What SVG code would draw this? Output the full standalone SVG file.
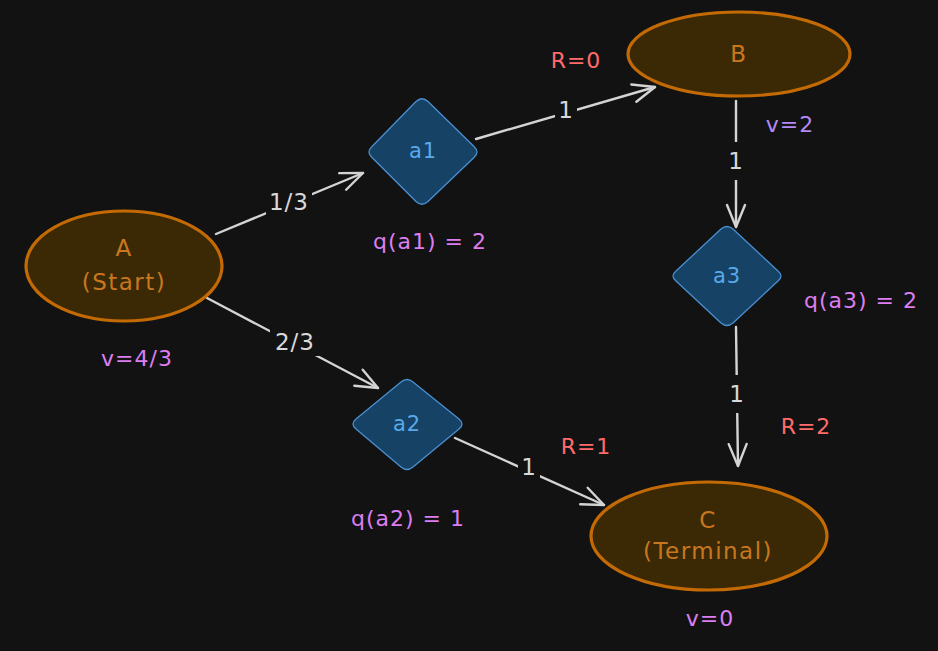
<svg xmlns="http://www.w3.org/2000/svg" width="938" height="651" viewBox="0 0 938 651">
<defs>
<style>
.state{fill:#3a2904;stroke:#c36a05;stroke-width:3.2}
.stxt{fill:#c8771f;font-family:"DejaVu Sans","Liberation Sans",sans-serif;font-size:23px;letter-spacing:1.5px;text-anchor:middle;dominant-baseline:central}
.act{fill:#164265;stroke:#4a90d2;stroke-width:1.3}
.atxt{fill:#5aa9ea;font-family:"DejaVu Sans","Liberation Sans",sans-serif;font-size:21px;letter-spacing:1px;text-anchor:middle;dominant-baseline:central}
.edge{stroke:#d4d4d4;stroke-width:2.4;fill:none;stroke-linecap:round}
.lbl{fill:#d8d8d8;font-family:"DejaVu Sans","Liberation Sans",sans-serif;font-size:23px;letter-spacing:1px;text-anchor:middle;dominant-baseline:central}
.lblbg{fill:#121212}
.rew{fill:#ff6b6b;font-family:"DejaVu Sans","Liberation Sans",sans-serif;font-size:22px;letter-spacing:1px;text-anchor:middle;dominant-baseline:central}
.val{fill:#dc7ef0;font-family:"DejaVu Sans","Liberation Sans",sans-serif;font-size:22px;letter-spacing:1px;text-anchor:middle;dominant-baseline:central}
.valb{fill:#b489f6;font-family:"DejaVu Sans","Liberation Sans",sans-serif;font-size:22px;letter-spacing:1px;text-anchor:middle;dominant-baseline:central}
</style>
<marker id="arr" viewBox="0 0 26 22" refX="24" refY="11" markerWidth="26" markerHeight="22" orient="auto" markerUnits="userSpaceOnUse">
<path d="M2,2 L24,11 L2,20" fill="none" stroke="#d4d4d4" stroke-width="2.4" stroke-linecap="round" stroke-linejoin="round"/>
</marker>
</defs>
<rect width="938" height="651" fill="#121212"/>
<g id="connectors">
<line class="edge" x1="216" y1="234" x2="363" y2="173" marker-end="url(#arr)"/>
<rect class="lblbg" x="266" y="188" width="46" height="28"/>
<text class="lbl" x="289" y="202">1/3</text>
<line class="edge" x1="207" y1="298" x2="378" y2="388" marker-end="url(#arr)"/>
<rect class="lblbg" x="270" y="328" width="50" height="28"/>
<text class="lbl" x="295" y="342">2/3</text>
<line class="edge" x1="476" y1="139" x2="655" y2="87" marker-end="url(#arr)"/>
<rect class="lblbg" x="555" y="96" width="22" height="28"/>
<text class="lbl" x="566" y="110">1</text>
<line class="edge" x1="455" y1="438" x2="604" y2="505" marker-end="url(#arr)"/>
<rect class="lblbg" x="518" y="453" width="22" height="28"/>
<text class="lbl" x="529" y="467">1</text>
<line class="edge" x1="736" y1="101" x2="736" y2="227" marker-end="url(#arr)"/>
<rect class="lblbg" x="724" y="142" width="24" height="38"/>
<text class="lbl" x="736" y="161">1</text>
<line class="edge" x1="736" y1="327" x2="738" y2="466" marker-end="url(#arr)"/>
<rect class="lblbg" x="725" y="375" width="24" height="38"/>
<text class="lbl" x="737" y="394">1</text>
</g>
<g id="A">
<ellipse class="state" cx="124" cy="266" rx="98" ry="55"/>
<text class="stxt" x="124" y="248">A</text>
<text class="stxt" x="124" y="282">(Start)</text>
</g>
<g id="B">
<ellipse class="state" cx="739" cy="54" rx="111" ry="42"/>
<text class="stxt" x="739" y="54">B</text>
</g>
<g id="C">
<ellipse class="state" cx="709" cy="536" rx="118" ry="54"/>
<text class="stxt" x="708" y="520">C</text>
<text class="stxt" x="708" y="551">(Terminal)</text>
</g>
<g id="a1">
<path class="act" d="M416,101.5 Q422,96 428,101.5 L474,146.5 Q480,152 474,157.5 L428,201.5 Q422,207 416,201.5 L372,157.5 Q366,152 372,146.5 Z"/>
<text class="atxt" x="423" y="151">a1</text>
</g>
<g id="a2">
<path class="act" d="M401,382 Q407,377 413,382 L459,419 Q465,424 459,429 L413,467 Q407,472 401,467 L356,429 Q350,424 356,419 Z"/>
<text class="atxt" x="407" y="424">a2</text>
</g>
<g id="a3">
<path class="act" d="M721,229 Q727,224 733,229 L778,271 Q784,276 778,281 L733,323 Q727,328 721,323 L676,281 Q670,276 676,271 Z"/>
<text class="atxt" x="727" y="276">a3</text>
</g>
<g id="annotations">
<text class="rew" x="576" y="60">R=0</text>
<text class="valb" x="790" y="124">v=2</text>
<text class="val" x="430" y="241">q(a1) = 2</text>
<text class="val" x="861" y="300">q(a3) = 2</text>
<text class="val" x="137" y="358">v=4/3</text>
<text class="rew" x="586" y="446">R=1</text>
<text class="rew" x="806" y="426">R=2</text>
<text class="val" x="408" y="518">q(a2) = 1</text>
<text class="val" x="710" y="618">v=0</text>
</g>
</svg>
